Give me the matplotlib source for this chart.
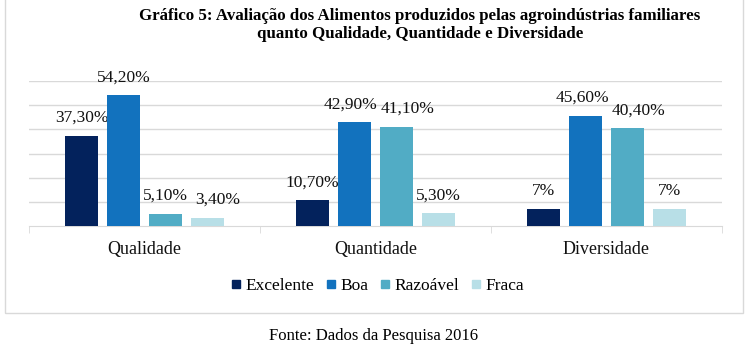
import matplotlib
matplotlib.use("Agg")
import matplotlib.pyplot as plt
from matplotlib.patches import Rectangle
from matplotlib.lines import Line2D
import numpy as np

plt.rcParams['font.family'] = ['Liberation Serif', 'DejaVu Serif']

categorias = ['Qualidade', 'Quantidade', 'Diversidade']
series = ['Excelente', 'Boa', 'Razoável', 'Fraca']
excelente = [37.3, 10.7, 7.0]
boa = [54.2, 42.9, 45.6]
razoavel = [5.1, 41.1, 40.4]
fraca = [3.4, 5.3, 7.0]
rotulos = [['37,30%', '10,70%', '7%'],
           ['54,20%', '42,90%', '45,60%'],
           ['5,10%', '41,10%', '40,40%'],
           ['3,40%', '5,30%', '7%']]
cores = ['#03225C', '#1272BE', '#51ACC5', '#B8DFE7']

# deslocamento horizontal dos rotulos (px), como o Excel faz para nao sobrepor
ajuste = {(1, 1): -4, (2, 1): 11, (3, 0): 10, (1, 2): -3, (2, 2): 11}

fig = plt.figure(figsize=(7.55, 3.49), dpi=100)
ax = fig.add_axes([29 / 755, 1 - 226 / 349, 693 / 755, 145 / 349])

x = np.arange(len(categorias))
largura = 33 / 231
passo = 42 / 231
for i, valores in enumerate([excelente, boa, razoavel, fraca]):
    pos = x + (i - 1.5) * passo
    barras = ax.bar(pos, valores, width=largura, color=cores[i], zorder=3)
    for j, (b, txt) in enumerate(zip(barras, rotulos[i])):
        dx = ajuste.get((i, j), 0) * 0.72
        ax.annotate(txt, (b.get_x() + b.get_width() / 2, b.get_height()),
                    xytext=(dx, 7), textcoords='offset points',
                    ha='center', va='bottom', fontsize=12.5, color='#111111')

ax.set_xlim(-0.5, 2.5)
ax.set_ylim(0, 60)
ax.set_yticks([10, 20, 30, 40, 50, 60])
ax.yaxis.grid(True, color='#D9D9D9', linewidth=1)
ax.tick_params(axis='y', left=False, labelleft=False)
for s in ['top', 'right', 'left']:
    ax.spines[s].set_visible(False)
ax.spines['bottom'].set_color('#D9D9D9')
ax.set_xticks(x)
ax.set_xticklabels(categorias, fontsize=13, color='#111111')
ax.tick_params(axis='x', length=0, pad=11)
ax.set_xticks([-0.5, 0.5, 1.5, 2.5], minor=True)
ax.tick_params(axis='x', which='minor', length=5, color='#D9D9D9')

fig.text(420 / 755, 1 - 20 / 349,
         'Gráfico 5: Avaliação dos Alimentos produzidos pelas agroindústrias familiares',
         ha='center', va='baseline', fontsize=12.2, fontweight='bold')
fig.text(420 / 755, 1 - 38 / 349, 'quanto Qualidade, Quantidade e Diversidade',
         ha='center', va='baseline', fontsize=12.2, fontweight='bold')

handles = [Line2D([], [], marker='s', linestyle='none', markersize=6, color=c) for c in cores]
fig.legend(handles, series, loc='center', bbox_to_anchor=(378 / 755, 1 - 286 / 349),
           ncol=4, frameon=False, handlelength=0.5, handletextpad=0.3,
           columnspacing=0.7, prop={'family': ['Liberation Serif', 'DejaVu Serif'], 'size': 12.5})

fig.patches.append(Rectangle((5 / 755, 1 - 313 / 349), 738 / 755, 320 / 349,
                             transform=fig.transFigure, fill=False,
                             edgecolor='#D9D9D9', linewidth=1))

fig.text(374 / 755, 1 - 336 / 349, 'Fonte: Dados da Pesquisa 2016', ha='center',
         va='center', fontsize=12)

fig.savefig('out.png', dpi=100)
